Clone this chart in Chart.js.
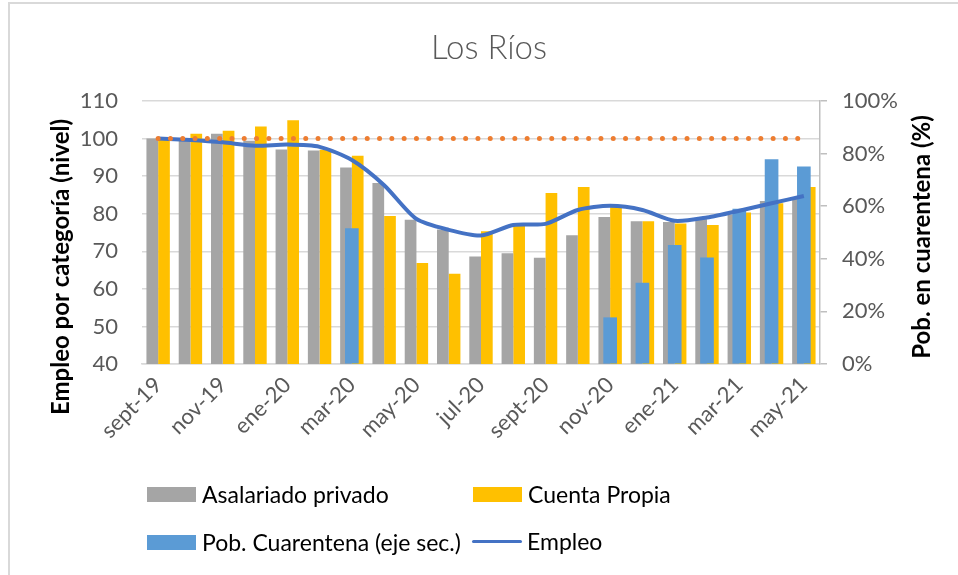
<!DOCTYPE html>
<html>
<head>
<meta charset="utf-8">
<script src="https://cdn.jsdelivr.net/npm/chart.js@4/dist/chart.umd.min.js"></script>
<style>
  html, body { margin: 0; padding: 0; background: #fff; overflow: hidden; }
  #wrap { position: relative; width: 958px; height: 575px; overflow: hidden; font-family: Lato, sans-serif; }
  #frame { position: absolute; left: 8px; top: 2px; width: 1000px; height: 620px; border-left: 2px solid #d9d9d9; border-top: 2px solid #d9d9d9; box-sizing: border-box; }
  #chart { position: absolute; left: 0; top: 0; }
  #title { position: absolute; left: 289px; width: 400px; top: 26px; text-align: center; font-size: 33px; font-weight: 300; color: #595959; line-height: 40px; }
  .leg { position: absolute; font-size: 23px; color: #000; line-height: 26px; white-space: nowrap; }
  .sw { position: absolute; }
</style>
</head>
<body>
<div id="wrap">
  <div id="frame"></div>
  <canvas id="chart" width="958" height="575"></canvas>
  <div id="title">Los Ríos</div>
  <div id="legend"></div>
</div>
<script>
// meses (etiqueta cada dos meses en el eje)
const meses = ['sept-19', 'oct-19', 'nov-19', 'dic-19', 'ene-20', 'feb-20', 'mar-20', 'abr-20', 'may-20', 'jun-20', 'jul-20',
    'ago-20', 'sept-20', 'oct-20', 'nov-20', 'dic-20', 'ene-21', 'feb-21', 'mar-21', 'abr-21', 'may-21'];

const asalariado = [100, 100, 101.3, 99.4, 97.1, 96.8, 92.3, 88.2, 78.4, 75.8, 68.6,
    69.5, 68.3, 74.3, 79.1, 78.0, 77.8, 78.5, 79.8, 83.4, 84.1];
const cuentaPropia = [99.8, 101.3, 102.1, 103.2, 104.9, 97.0, 95.4, 79.4, 66.9, 64.0, 75.3,
    76.7, 85.5, 87.1, 82.2, 78.0, 77.4, 77.0, 80.3, 82.8, 87.1];
// % poblacion en cuarentena (eje secundario)
const cuarentena = [null, null, null, null, null, null, 51.5, null, null, null, null,
    null, null, null, 17.6, 30.8, 45.1, 40.4, 58.9, 77.7, 75.0];
const empleo = [100, 99.6, 99.0, 98.1, 98.4, 97.8, 94.3, 87.6, 78.6, 75.7, 74.2,
    77.0, 77.3, 81.0, 82.1, 81.0, 78.1, 79.0, 80.8, 82.8, 84.7];
const base100 = meses.map(() => 100);

const ticksIzq = [40, 50, 60, 70, 80, 90, 100, 110];
const ticksDer = [0, 20, 40, 60, 80, 100];

const tickFont = { family: 'Lato', size: 22 };
const gris = '#595959';

// titulos de ejes (los dos leen de abajo hacia arriba)
const axisTitles = {
    id: 'axisTitles',
    afterDraw(chart) {
        const ctx = chart.ctx;
        ctx.save();
        ctx.fillStyle = '#000';
        ctx.font = 'bold 24px Lato';
        ctx.textAlign = 'center';
        ctx.textBaseline = 'middle';
        [[61, 267, 'Empleo por categoría (nivel)'], [922, 237, 'Pob. en cuarentena (%)']].forEach(([x, y, t]) => {
            ctx.save();
            ctx.translate(x, y);
            ctx.rotate(-Math.PI / 2);
            ctx.fillText(t, 0, 0);
            ctx.restore();
        });
        ctx.restore();
    }
};

const ctx = document.getElementById('chart').getContext('2d');
const chart = new Chart(ctx, {
    type: 'bar',
    data: {
        labels: meses,
        datasets: [
            {
                type: 'line',
                label: 'Base 100',
                data: base100,
                borderColor: '#ED7D31',
                borderWidth: 5,
                borderDash: [0, 12.3],
                borderCapStyle: 'round',
                pointRadius: 0,
                fill: false,
                order: 0,
                yAxisID: 'y'
            },
            {
                type: 'line',
                label: 'Empleo',
                data: empleo,
                borderColor: '#4472C4',
                borderWidth: 4,
                tension: 0.25,
                pointRadius: 0,
                fill: false,
                order: 1,
                yAxisID: 'y'
            },
            {
                // superpuesta y centrada sobre las otras barras
                label: 'Pob. Cuarentena (eje sec.)',
                data: cuarentena,
                backgroundColor: '#5B9BD5',
                yAxisID: 'y2',
                grouped: false,
                categoryPercentage: 1,
                barPercentage: 1,
                maxBarThickness: 13,
                order: 2
            },
            {
                label: 'Asalariado privado',
                data: asalariado,
                backgroundColor: '#A5A5A5',
                categoryPercentage: 0.725,
                barPercentage: 1,
                order: 3,
                yAxisID: 'y'
            },
            {
                label: 'Cuenta Propia',
                data: cuentaPropia,
                backgroundColor: '#FFC000',
                categoryPercentage: 0.725,
                barPercentage: 1,
                order: 3,
                yAxisID: 'y'
            }
        ]
    },
    options: {
        responsive: false,
        animation: false,
        layout: { padding: { top: 101, left: 0, right: 0, bottom: 0 } },
        plugins: {
            legend: { display: false },
            title: { display: false },
            tooltip: { enabled: false }
        },
        scales: {
            x: {
                afterFit: s => { s.height = 575 - 364; },
                grid: { display: false },
                border: { display: true, color: '#d9d9d9', width: 1.5 },
                ticks: {
                    autoSkip: false,
                    minRotation: 45,
                    maxRotation: 45,
                    padding: 0,
                    color: gris,
                    font: tickFont,
                    callback: (v, i) => (i % 2 === 0 ? meses[i] : '')
                }
            },
            y: {
                position: 'left',
                min: 40,
                max: 110,
                afterFit: s => { s.width = 142; },
                afterBuildTicks: s => { s.ticks = ticksIzq.map(v => ({ value: v })); },
                grid: { color: '#d9d9d9', lineWidth: 1.5, drawTicks: false },
                border: { display: false },
                ticks: { padding: 24, color: gris, font: tickFont }
            },
            y2: {
                position: 'right',
                min: 0,
                max: 100,
                afterFit: s => { s.width = 958 - 820; },
                afterBuildTicks: s => { s.ticks = ticksDer.map(v => ({ value: v })); },
                grid: { drawOnChartArea: false, tickLength: 7, color: '#bfbfbf', lineWidth: 1.5 },
                border: { display: true, color: '#bfbfbf', width: 1.5 },
                ticks: { padding: 15, color: gris, font: tickFont, callback: v => v + '%' }
            }
        }
    },
    plugins: [axisTitles]
});

// leyenda en dos columnas, como en el original
const items = [
    { text: 'Asalariado privado', color: '#A5A5A5', x: 147, y: 494, kind: 'box' },
    { text: 'Cuenta Propia', color: '#FFC000', x: 473, y: 494, kind: 'box' },
    { text: 'Pob. Cuarentena (eje sec.)', color: '#5B9BD5', x: 147, y: 542, kind: 'box' },
    { text: 'Empleo', color: '#4472C4', x: 472, y: 541, kind: 'line' }
];
const legend = document.getElementById('legend');
items.forEach(it => {
    const sw = document.createElement('div');
    sw.className = 'sw';
    sw.style.left = it.x + 'px';
    sw.style.background = it.color;
    if (it.kind === 'box') {
        sw.style.width = '49px';
        sw.style.height = '15px';
        sw.style.top = (it.y - 7) + 'px';
    } else {
        sw.style.width = '50px';
        sw.style.height = '3.5px';
        sw.style.borderRadius = '2px';
        sw.style.top = (it.y - 1.5) + 'px';
    }
    legend.appendChild(sw);
    const t = document.createElement('div');
    t.className = 'leg';
    t.textContent = it.text;
    t.style.left = (it.x + 55) + 'px';
    t.style.top = (it.y - 13) + 'px';
    legend.appendChild(t);
});
</script>
</body>
</html>
